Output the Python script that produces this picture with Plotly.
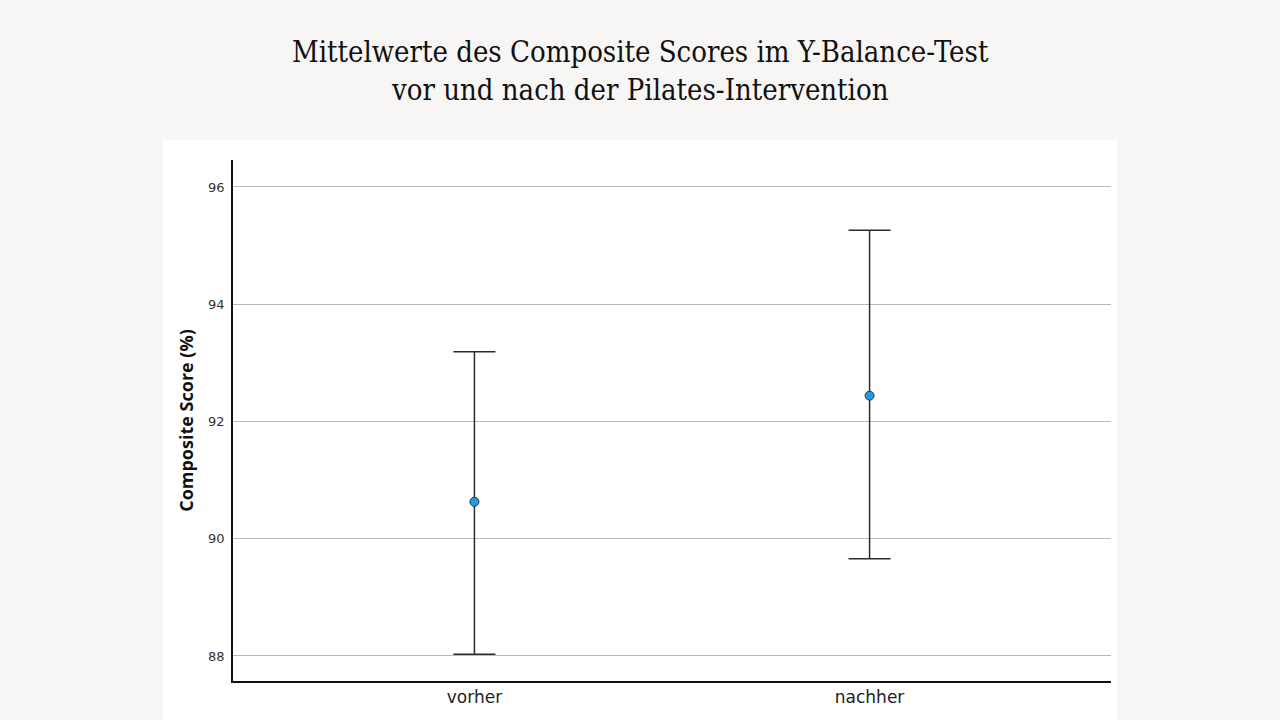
import plotly.graph_objects as go

# Mittelwerte mit Fehlerbalken
gruppen = ["vorher", "nachher"]
mittelwert = [90.63, 92.44]
obere_grenze = [93.19, 95.26]
untere_grenze = [88.03, 89.66]

fehler_plus = [o - m for o, m in zip(obere_grenze, mittelwert)]
fehler_minus = [m - u for m, u in zip(mittelwert, untere_grenze)]

y_ticks = [88, 90, 92, 94, 96]

titel_zeilen = [
    "Mittelwerte des Composite Scores im Y-Balance-Test",
    "vor und nach der Pilates-Intervention",
]

fig = go.Figure()
fig.add_trace(go.Scatter(
    x=gruppen,
    y=mittelwert,
    mode="markers",
    marker=dict(size=9, color="#1e9be6", line=dict(color="#333333", width=1)),
    error_y=dict(
        type="data",
        symmetric=False,
        array=fehler_plus,
        arrayminus=fehler_minus,
        color="#2b2b2b",
        thickness=1.5,
        width=21,
    ),
    showlegend=False,
    hoverinfo="skip",
))

# weisses Panel hinter dem Diagramm
fig.add_shape(
    type="rect", xref="paper", yref="paper",
    x0=-0.0797, x1=1.0068, y0=-0.076, y1=1.0384,
    fillcolor="white", line=dict(width=0), layer="below",
)

# Titel als zwei Zeilen (eigener Zeilenabstand), mittig auf der Seite
for zeile, ypos in zip(titel_zeilen, [1.2073, 1.1344]):
    fig.add_annotation(
        text=zeile, xref="paper", yref="paper", x=0.4636, y=ypos,
        xanchor="center", yanchor="middle", showarrow=False,
        font=dict(family="DejaVu Serif Condensed, DejaVu Serif, serif", size=29, color="#111111"),
    )

fig.update_layout(
    width=1280,
    height=720,
    paper_bgcolor="#f7f6f4",
    plot_bgcolor="white",
    margin=dict(l=233, r=169, t=160, b=39),
    xaxis=dict(
        type="category",
        range=[-0.611, 1.611],
        showgrid=False,
        showline=True,
        linecolor="#111111",
        linewidth=1.5,
        ticks="",
        tickfont=dict(family="DejaVu Sans, sans-serif", size=17, color="#222222"),
        zeroline=False,
    ),
    yaxis=dict(
        range=[87.573, 96.46],
        tickvals=y_ticks,
        showgrid=True,
        gridcolor="#b8b8b8",
        gridwidth=1,
        showline=True,
        linecolor="#111111",
        linewidth=1.5,
        ticks="",
        ticklabelstandoff=4,
        tickfont=dict(family="DejaVu Sans, sans-serif", size=13, color="#333333"),
        zeroline=False,
        title=dict(
            text="<b>Composite Score (%)</b>",
            font=dict(family="Open Sans, DejaVu Sans, sans-serif", size=18, color="#111111"),
            standoff=10,
        ),
    ),
)

fig.write_html(
    "out.html",
    config={"displayModeBar": False},
    post_script="document.body.style.margin='0';",
)
